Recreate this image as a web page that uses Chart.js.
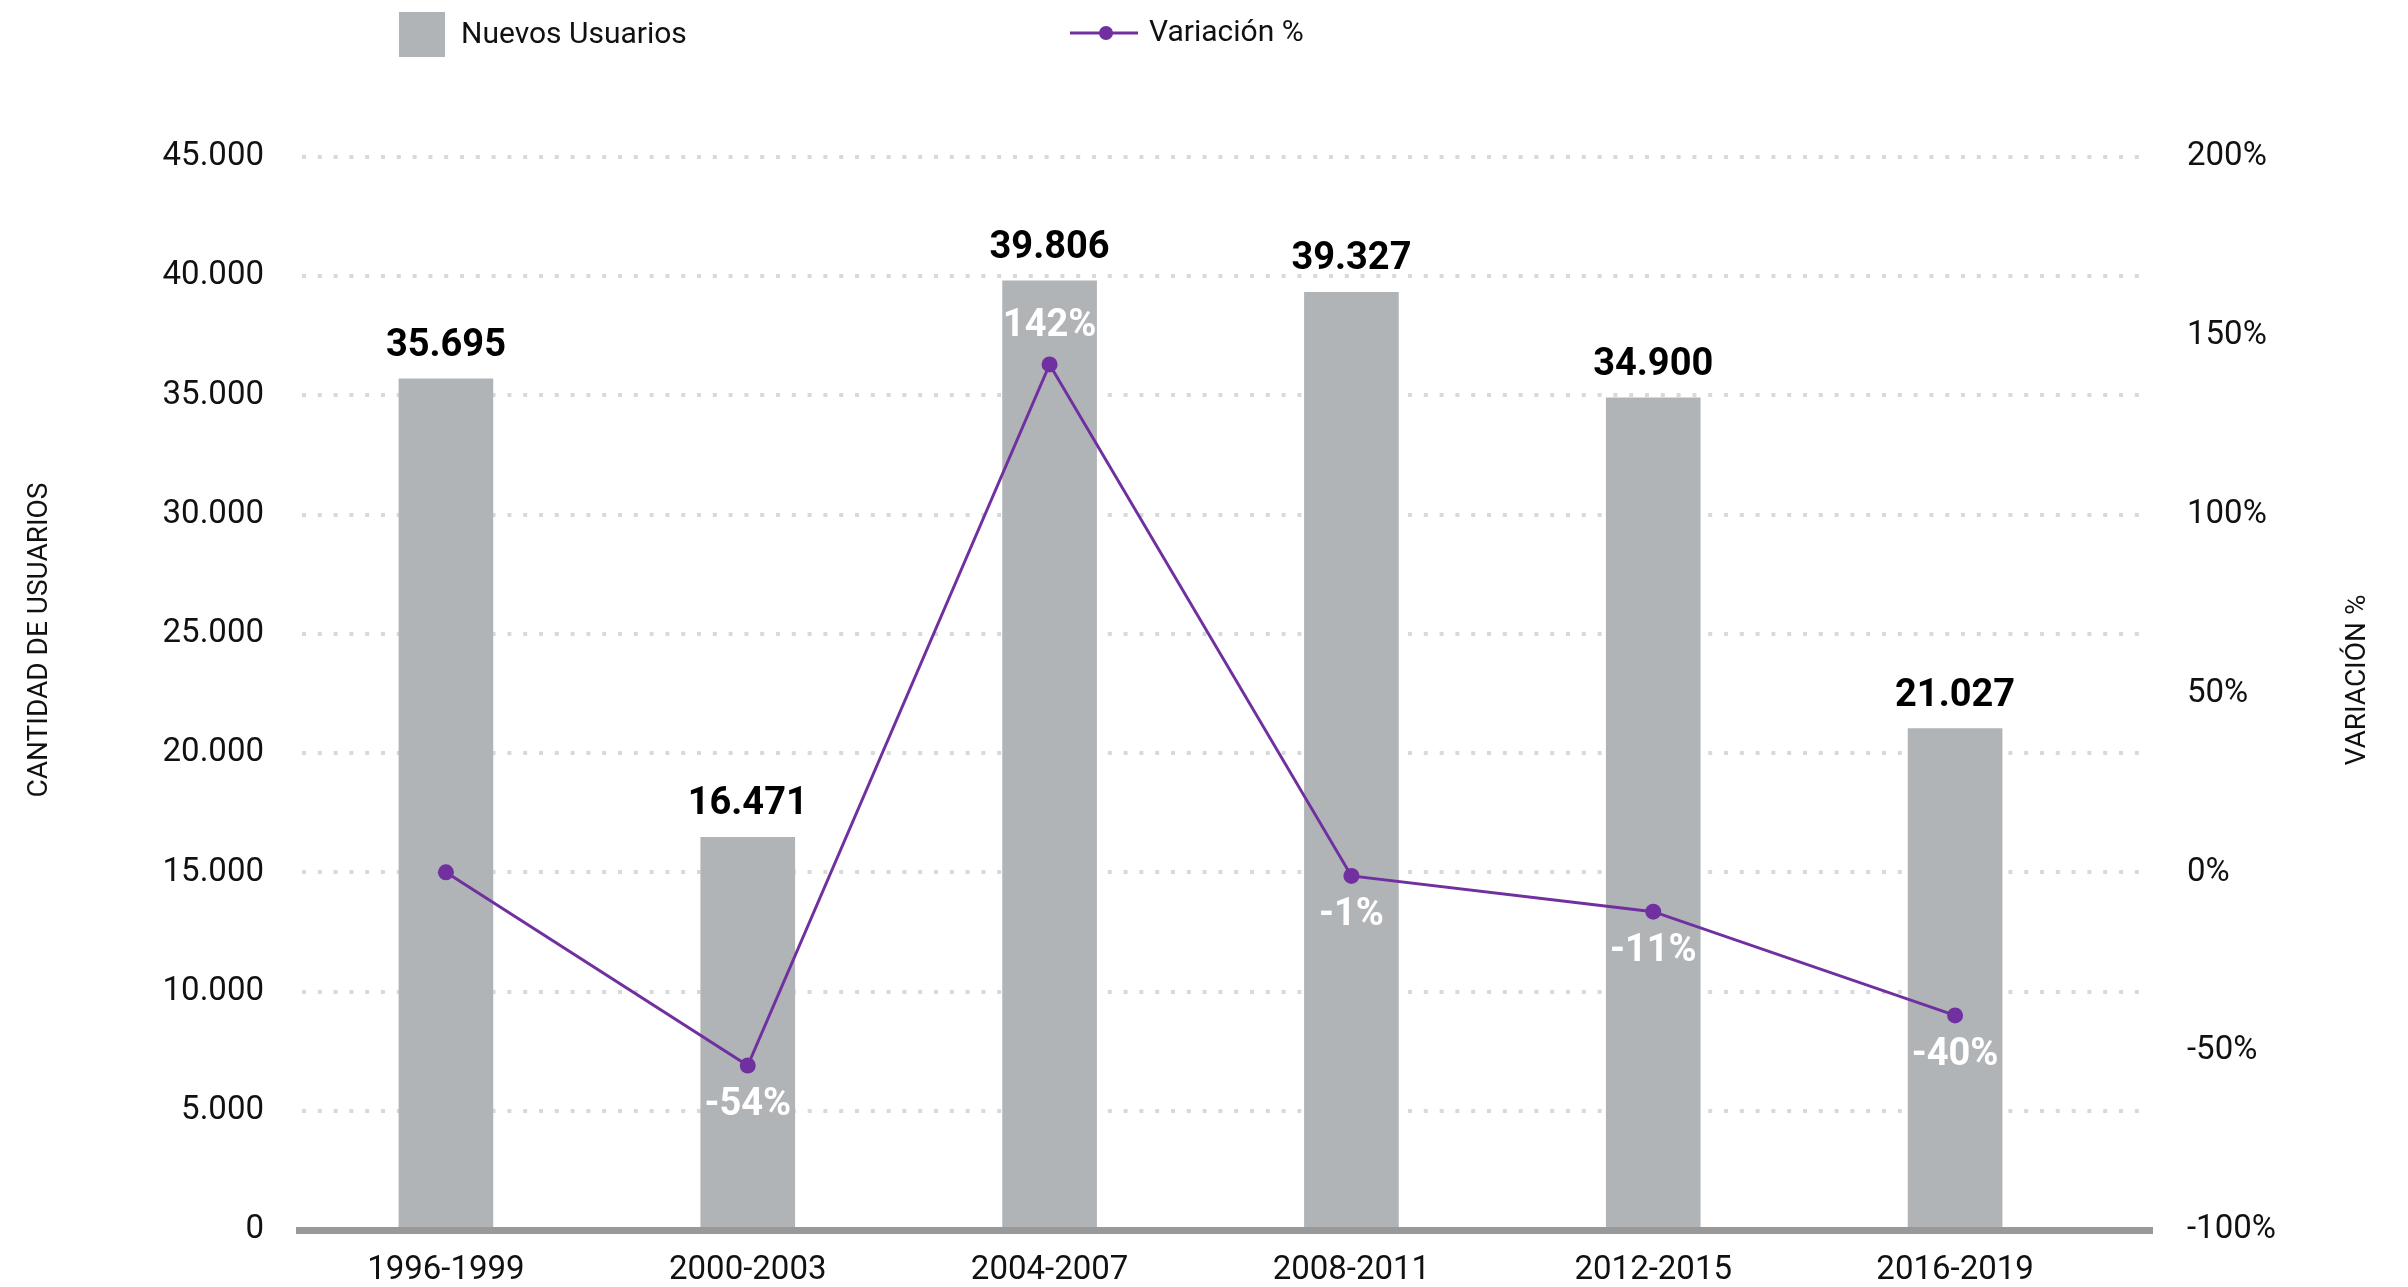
<!DOCTYPE html>
<html>
<head>
<meta charset="utf-8">
<script src="https://cdn.jsdelivr.net/npm/chart.js@4.4.1/dist/chart.umd.min.js"></script>
<style>
  html, body { margin: 0; padding: 0; background: #fff; overflow: hidden; }
  #chart { display: block; width: 2408px; height: 1287px; }
</style>
</head>
<body>
<canvas id="chart" width="2408" height="1287"></canvas>
<script>
// data
const periods = ['1996-1999', '2000-2003', '2004-2007', '2008-2011', '2012-2015', '2016-2019'];
const newUsers = [35695, 16471, 39806, 39327, 34900, 21027];
const variation = [0, -54, 142, -1, -11, -40];

const usersTicks = { min: 0, max: 45000, step: 5000 };
const varTicks = { min: -100, max: 200, step: 50 };

const usersLabel = 'Nuevos Usuarios';
const varLabel = 'Variación %';
const leftTitle = 'CANTIDAD DE USUARIOS';
const rightTitle = 'VARIACIÓN %';

const BAR_COLOR = '#b1b4b7';
const LINE_COLOR = '#7030a0';
const TEXT = '#111';
const FONT = 'Roboto, "Noto Sans", sans-serif';

Chart.defaults.font.family = FONT;
Chart.defaults.color = TEXT;

function fmt(n) {
    return n.toString().replace(/\B(?=(\d{3})+(?!\d))/g, '.');
}

// dotted grid + thick base line, drawn past the category area like the original
const gridPlugin = {
    id: 'dottedGrid',
    beforeDatasetsDraw(chart) {
        const ctx = chart.ctx;
        const y = chart.scales.y;
        const area = chart.chartArea;
        ctx.save();
        ctx.strokeStyle = '#d9d9d9';
        ctx.lineWidth = 4;
        ctx.setLineDash([4, 11.8]);
        y.ticks.forEach(t => {
            if (t.value === 0) return;
            const py = Math.round(y.getPixelForValue(t.value));
            ctx.beginPath();
            ctx.moveTo(area.left + 7, py);
            ctx.lineTo(area.right + 44, py);
            ctx.stroke();
        });
        ctx.restore();
    },
    afterDatasetsDraw(chart) {
        const ctx = chart.ctx;
        const y = chart.scales.y;
        const area = chart.chartArea;
        const py = y.getPixelForValue(0);
        ctx.save();
        ctx.fillStyle = '#999999';
        ctx.fillRect(area.left + 1, py - 3, area.right - area.left + 46, 7);
        ctx.restore();
    }
};

// value labels on bars and points
const labelPlugin = {
    id: 'valueLabels',
    afterDatasetsDraw(chart) {
        const ctx = chart.ctx;
        ctx.save();
        ctx.textAlign = 'center';

        const barMeta = chart.getDatasetMeta(0);
        ctx.font = 'bold 38px ' + FONT;
        ctx.fillStyle = '#000';
        ctx.textBaseline = 'alphabetic';
        barMeta.data.forEach((el, i) => {
            ctx.fillText(fmt(newUsers[i]), el.x, el.y - 23);
        });

        const lineMeta = chart.getDatasetMeta(1);
        ctx.fillStyle = '#fff';
        ctx.textBaseline = 'middle';
        lineMeta.data.forEach((el, i) => {
            const v = variation[i];
            if (v === 0) return;
            const off = v > 0 ? -38 : 40;
            ctx.fillText(v + '%', el.x, el.y + off);
        });
        ctx.restore();
    }
};

// legend and axis titles
const decorPlugin = {
    id: 'decor',
    afterDraw(chart) {
        const ctx = chart.ctx;
        ctx.save();
        ctx.font = '30px ' + FONT;
        ctx.fillStyle = TEXT;
        ctx.textBaseline = 'middle';
        ctx.textAlign = 'left';

        const ds0 = chart.data.datasets[0];
        ctx.fillStyle = ds0.backgroundColor;
        ctx.fillRect(399, 12, 46, 45);
        ctx.fillStyle = TEXT;
        ctx.fillText(ds0.label, 461, 35);

        const ds1 = chart.data.datasets[1];
        ctx.strokeStyle = ds1.borderColor;
        ctx.lineWidth = 3;
        ctx.beginPath();
        ctx.moveTo(1070, 33);
        ctx.lineTo(1138, 33);
        ctx.stroke();
        ctx.fillStyle = ds1.borderColor;
        ctx.beginPath();
        ctx.arc(1106, 33, 7, 0, Math.PI * 2);
        ctx.fill();
        ctx.fillStyle = TEXT;
        ctx.fillText(ds1.label, 1149, 33);

        ctx.font = '28px ' + FONT;
        ctx.textAlign = 'center';
        ctx.save();
        ctx.translate(40, 640);
        ctx.rotate(-Math.PI / 2);
        ctx.fillText(leftTitle, 0, 0);
        ctx.restore();
        ctx.save();
        ctx.translate(2358, 680);
        ctx.rotate(-Math.PI / 2);
        ctx.fillText(rightTitle, 0, 0);
        ctx.restore();
        ctx.restore();
    }
};

// fixed axis sizes; tick padding must not push the chart area
function fixWidth(w) {
    return scale => {
        scale.width = w;
        scale.paddingTop = 20;
        scale.paddingBottom = 20;
    };
}

new Chart(document.getElementById('chart'), {
    type: 'bar',
    data: {
        labels: periods,
        datasets: [
            {
                type: 'bar',
                label: usersLabel,
                data: newUsers,
                backgroundColor: BAR_COLOR,
                barThickness: 94,
                yAxisID: 'y',
                order: 2
            },
            {
                type: 'line',
                label: varLabel,
                data: variation,
                borderColor: LINE_COLOR,
                backgroundColor: LINE_COLOR,
                borderWidth: 3,
                pointRadius: 8,
                pointBackgroundColor: LINE_COLOR,
                pointBorderWidth: 0,
                tension: 0,
                yAxisID: 'y1',
                order: 1
            }
        ]
    },
    options: {
        responsive: false,
        devicePixelRatio: 1,
        animation: false,
        layout: { padding: { top: 157, left: 0, right: 0, bottom: 0 } },
        plugins: {
            legend: { display: false },
            tooltip: { enabled: false }
        },
        scales: {
            x: {
                grid: { display: false, drawTicks: false },
                border: { display: false },
                ticks: { font: { size: 33 }, color: TEXT, padding: 21, maxRotation: 0 },
                afterFit(scale) { scale.height = 57; }
            },
            y: {
                position: 'left',
                min: usersTicks.min,
                max: usersTicks.max,
                grid: { display: false, drawTicks: false },
                border: { display: false },
                ticks: {
                    stepSize: usersTicks.step,
                    font: { size: 33 },
                    color: TEXT,
                    padding: 31,
                    callback: v => fmt(v)
                },
                afterFit: fixWidth(295)
            },
            y1: {
                position: 'right',
                min: varTicks.min,
                max: varTicks.max,
                grid: { display: false, drawTicks: false },
                border: { display: false },
                ticks: {
                    stepSize: varTicks.step,
                    font: { size: 33 },
                    color: TEXT,
                    padding: 81,
                    callback: v => v + '%'
                },
                afterFit: fixWidth(302)
            }
        }
    },
    plugins: [gridPlugin, labelPlugin, decorPlugin]
});
</script>
</body>
</html>
